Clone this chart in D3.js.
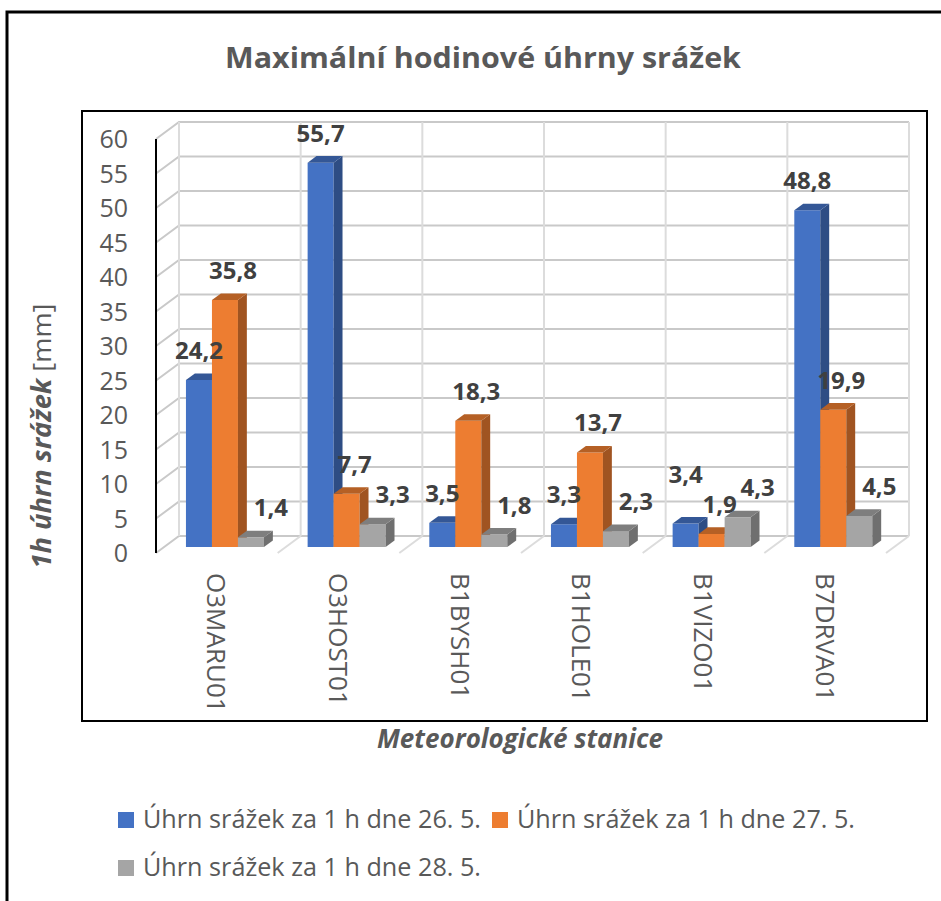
<!DOCTYPE html>
<html>
<head>
<meta charset="utf-8">
<script src="https://cdn.jsdelivr.net/npm/d3@7"></script>
<style>
    body { margin: 0; background: #fff; }
    text { font-family: "Open Sans", "Noto Sans", sans-serif; }
</style>
</head>
<body>
<svg id="chart" width="941" height="901"></svg>
<script>

// ---- data ----
var stations = ["O3MARU01", "O3HOST01", "B1BYSH01", "B1HOLE01", "B1VIZO01", "B7DRVA01"];
var seriesNames = ["Úhrn srážek za 1 h dne 26. 5.", "Úhrn srážek za 1 h dne 27. 5.", "Úhrn srážek za 1 h dne 28. 5."];
var rain26 = [24.2, 55.7, 3.5, 3.3, 3.4, 48.8];
var rain27 = [35.8, 7.7, 18.3, 13.7, 1.9, 19.9];
var rain28 = [1.4, 3.3, 1.8, 2.3, 4.3, 4.5];
var yTicks = [0, 5, 10, 15, 20, 25, 30, 35, 40, 45, 50, 55, 60];

var seriesValues = [rain26, rain27, rain28];
var seriesColors = ["#4472C4", "#ED7D31", "#A5A5A5"];
var labelShift = [0, 8, 20];   // excel pushes the labels a bit to the right

var textColor = "#595959";

var svg = d3.select("#chart");

// fits a text element to a given width (excel uses narrow Calibri)
function fit(sel, w) {
    var n = sel.node().getComputedTextLength();
    if (Math.abs(n - w) > 2) {
        sel.attr("textLength", w).attr("lengthAdjust", "spacingAndGlyphs");
    }
    return sel;
}

// frames
svg.append("rect")
    .attr("x", 7).attr("y", 12)
    .attr("width", 1000).attr("height", 1000)
    .attr("fill", "none").attr("stroke", "#000").attr("stroke-width", 3);

svg.append("rect")
    .attr("x", 82).attr("y", 111)
    .attr("width", 845).attr("height", 610)
    .attr("fill", "none").attr("stroke", "#000").attr("stroke-width", 2);

// title
fit(svg.append("text")
    .attr("x", 483).attr("y", 68)
    .attr("text-anchor", "middle")
    .attr("font-size", 29).attr("font-weight", "bold")
    .attr("fill", textColor)
    .text("Maximální hodinové úhrny srážek"), 516);

// ---- 3D box: back wall + depth vector ----
var depth = [-23, 17];
function proj(x, y, d) {
    return [x + depth[0] * d, y + depth[1] * d];
}

var y = d3.scaleLinear().domain([0, 60]).range([536, 122]);
var x0 = d3.scaleBand().domain(stations).range([179, 909]);
var x1 = d3.scaleBand().domain(d3.range(seriesValues.length))
    .range([0, x0.bandwidth()])
    .paddingInner(0).paddingOuter(0.84);

var grid = svg.append("g").attr("stroke-width", 2).attr("fill", "none");

// horizontal gridlines on back and left wall
yTicks.forEach(function(t) {
    var a = proj(x0.range()[0], y(t), 1);
    grid.append("path")
        .attr("d", "M" + a + "L" + x0.range()[0] + "," + y(t) + "H" + x0.range()[1])
        .attr("stroke", "#c9c9c9");
});

// vertical lines on back wall + floor diagonals
var bounds = stations.map(function(s) { return x0(s); }).concat([x0.range()[1]]);
bounds.forEach(function(bx, i) {
    grid.append("line")
        .attr("x1", bx).attr("x2", bx)
        .attr("y1", y(60)).attr("y2", y(0))
        .attr("stroke", "#dcdcdc");
    if (i > 0) {
        var f = proj(bx, y(0), 1);
        grid.append("line")
            .attr("x1", bx).attr("y1", y(0))
            .attr("x2", f[0]).attr("y2", f[1])
            .attr("stroke", "#dcdcdc");
    }
});

// front value axis
var ax = proj(x0.range()[0], y(60), 1), ax0 = proj(x0.range()[0], y(0), 1);
svg.append("line")
    .attr("x1", ax[0]).attr("x2", ax0[0])
    .attr("y1", ax[1]).attr("y2", ax0[1])
    .attr("stroke", "#000").attr("stroke-width", 2);

svg.append("g").selectAll("text")
    .data(yTicks)
    .join("text")
    .attr("x", 128)
    .attr("y", function(t) { return y(t) + depth[1]; })
    .attr("dy", "0.36em")
    .attr("text-anchor", "end")
    .attr("font-size", 25)
    .attr("fill", textColor)
    .text(function(t) { return t; });

// ---- bars ----
var dFront = 0.647, dBack = 0.26;
var bars = svg.append("g");
var labels = [];

stations.forEach(function(st, i) {
    seriesValues.forEach(function(vals, j) {
        var v = vals[i];
        var bx = x0(st) + x1(j), bw = x1.bandwidth();
        var flb = proj(bx, y(0), dFront), frb = proj(bx + bw, y(0), dFront),
            frt = proj(bx + bw, y(v), dFront), flt = proj(bx, y(v), dFront),
            brb = proj(bx + bw, y(0), dBack), brt = proj(bx + bw, y(v), dBack),
            blt = proj(bx, y(v), dBack);
        var c = d3.color(seriesColors[j]);

        bars.append("path")
            .attr("d", "M" + flb + "L" + frb + "L" + frt + "L" + flt + "Z")
            .attr("fill", c);
        bars.append("path")
            .attr("d", "M" + frb + "L" + brb + "L" + brt + "L" + frt + "Z")
            .attr("fill", c.darker(1.1));
        bars.append("path")
            .attr("d", "M" + flt + "L" + frt + "L" + brt + "L" + blt + "Z")
            .attr("fill", c.darker(0.75));

        labels.push({ group: i, series: j, v: v,
            x: (flt[0] + frt[0]) / 2 + labelShift[j], y: flt[1] - 21 });
    });
});

// data labels, lifted when they collide inside a group
var labelG = svg.append("g");
d3.range(stations.length).forEach(function(i) {
    var placed = [];
    labels.filter(function(l) { return l.group == i; }).reverse().forEach(function(l) {
        var t = labelG.append("text")
            .attr("x", l.x).attr("y", l.y)
            .attr("text-anchor", "middle")
            .attr("font-size", 24).attr("font-weight", "bold")
            .attr("fill", "#404040")
            .text(String(l.v).replace(".", ","));
        var b = t.node().getBBox();
        var hit = true;
        while (hit) {
            hit = placed.some(function(p) {
                return b.x < p.x + p.width && b.x + b.width > p.x &&
                       b.y < p.y + p.height - 4 && b.y + b.height - 4 > p.y;
            });
            if (hit) { l.y -= 2; t.attr("y", l.y); b = t.node().getBBox(); }
        }
        placed.push(b);
    });
});

// category labels, rotated, on the front plane
svg.append("g").selectAll("text")
    .data(stations)
    .join("text")
    .attr("transform", function(s) {
        var p = proj(x0(s) + x0.bandwidth() / 2, 0, 1);
        return "translate(" + p[0] + ",573) rotate(90)";
    })
    .attr("dy", "0.36em")
    .attr("font-size", 26)
    .attr("fill", textColor)
    .text(function(s) { return s; });

// axis titles
var yt = svg.append("text")
    .attr("transform", "translate(42,436) rotate(-90)")
    .attr("text-anchor", "middle")
    .attr("dy", "0.36em")
    .attr("font-size", 26)
    .attr("fill", textColor);
yt.append("tspan").attr("font-weight", "bold").attr("font-style", "italic").text("1h úhrn srážek");
yt.append("tspan").text(" [mm]");
fit(yt, 265);

fit(svg.append("text")
    .attr("x", 520).attr("y", 748)
    .attr("text-anchor", "middle")
    .attr("font-size", 26).attr("font-weight", "bold").attr("font-style", "italic")
    .attr("fill", textColor)
    .text("Meteorologické stanice"), 285);

// legend
var legendPos = [[118, 812], [492, 812], [118, 860]];
seriesNames.forEach(function(name, j) {
    var g = svg.append("g").attr("transform", "translate(" + legendPos[j] + ")");
    g.append("rect").attr("width", 16).attr("height", 16).attr("fill", seriesColors[j]);
    fit(g.append("text")
        .attr("x", 25).attr("y", 16)
        .attr("font-size", 26)
        .attr("fill", textColor)
        .text(name), 338);
});

</script>
</body>
</html>
